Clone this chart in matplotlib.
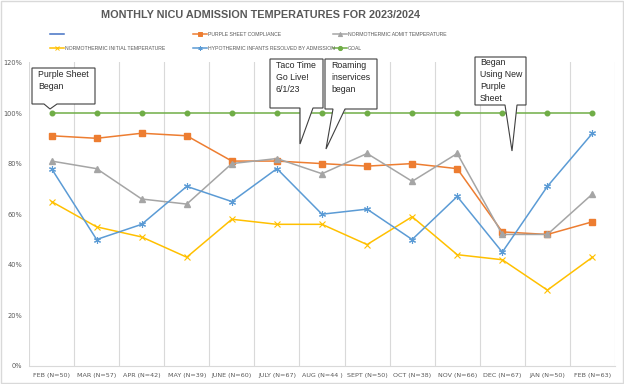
import matplotlib
matplotlib.use("Agg")
import matplotlib.pyplot as plt
from matplotlib.lines import Line2D
from matplotlib.patches import Polygon, Rectangle
from matplotlib.ticker import FuncFormatter

months = ["FEB (N=50)", "MAR (N=57)", "APR (N=42)", "MAY (N=39)", "JUNE (N=60)",
          "JULY (N=67)", "AUG (N=44 )", "SEPT (N=50)", "OCT (N=38)", "NOV (N=66)",
          "DEC (N=67)", "JAN (N=50)", "FEB (N=63)"]
purple_sheet = [91, 90, 92, 91, 81, 81, 80, 79, 80, 78, 53, 52, 57]
admit_temp = [81, 78, 66, 64, 80, 82, 76, 84, 73, 84, 52, 52, 68]
initial_temp = [65, 55, 51, 43, 58, 56, 56, 48, 59, 44, 42, 30, 43]
hypo_resolved = [78, 50, 56, 71, 65, 78, 60, 62, 50, 67, 45, 71, 92]
goal = [100] * 13

ORANGE = "#ED7D31"
GRAY = "#A5A5A5"
YELLOW = "#FFC000"
BLUE = "#5B9BD5"
GREEN = "#70AD47"
DARKBLUE = "#4472C4"
TXT = "#595959"
GRID = "#D9D9D9"

W, H = 624, 384


def fx(px):
    return px / W


def fy(py):
    return 1 - py / H


fig = plt.figure(figsize=(W / 100, H / 100), dpi=100)
fig.patches.append(Rectangle((0.001, 0.002), 0.997, 0.995, transform=fig.transFigure,
                             fill=False, edgecolor=GRID, lw=1))

ax = fig.add_axes([fx(29), fy(366), fx(615) - fx(29), fy(62.4) - fy(366)])
x = list(range(len(months)))

ax.plot(x, goal, color=GREEN, lw=1.1, marker="o", ms=3.3, zorder=3)
ax.plot(x, purple_sheet, color=ORANGE, lw=1.1, marker="s", ms=3.8, zorder=3)
ax.plot(x, admit_temp, color=GRAY, lw=1.1, marker="^", ms=4, zorder=3)
ax.plot(x, initial_temp, color=YELLOW, lw=1.1, marker="x", ms=4.5, mew=0.8, zorder=3)
ax.plot(x, hypo_resolved, color=BLUE, lw=1.1, marker=(6, 2, 0), ms=5, mew=0.8, zorder=3)

ax.set_xlim(-0.5, len(months) - 0.5)
ax.set_ylim(0, 120)
ax.set_yticks(range(0, 121, 20))
ax.yaxis.set_major_formatter(FuncFormatter(lambda v, p: f"{int(v)}%"))
ax.set_xticks(x)
ax.set_xticklabels(months)
ax.set_xticks([i - 0.5 for i in range(len(months) + 1)], minor=True)
ax.grid(True, axis="x", which="minor", color=GRID, lw=0.8)
ax.tick_params(axis="both", which="both", length=0)
ax.tick_params(axis="x", labelsize=4.6, labelcolor=TXT, pad=5)
ax.tick_params(axis="y", labelsize=4.8, labelcolor=TXT, pad=5)
for s in ["top", "right", "left"]:
    ax.spines[s].set_visible(False)
ax.spines["bottom"].set_color(GRID)
ax.spines["bottom"].set_linewidth(0.8)

fig.text(fx(261), fy(15), "MONTHLY NICU ADMISSION TEMPERATURES FOR 2023/2024",
         ha="center", va="center", fontsize=7.8, fontweight="bold", color=TXT,
         family=["Liberation Sans", "DejaVu Sans"])

# legend drawn by hand
legend_items = [
    (50, 34, DARKBLUE, None, ""),
    (193, 34, ORANGE, "s", "PURPLE SHEET COMPLIANCE"),
    (333, 34, GRAY, "^", "NORMOTHERMIC ADMIT TEMPERATURE"),
    (50, 48, YELLOW, "x", "NORMOTHERMIC INITIAL TEMPERATURE"),
    (193, 48, BLUE, (6, 2, 0), "HYPOTHERMIC INFANTS RESOLVED BY ADMISSION"),
    (333, 48, GREEN, "o", "GOAL"),
]
for lx, ly, c, m, lab in legend_items:
    fig.add_artist(Line2D([fx(lx), fx(lx + 14)], [fy(ly), fy(ly)], color=c, lw=1.1,
                          transform=fig.transFigure))
    if m is not None:
        fig.add_artist(Line2D([fx(lx + 7)], [fy(ly)], color=c, marker=m, ms=3,
                              mew=0.7, transform=fig.transFigure))
    if lab:
        fig.text(fx(lx + 15), fy(ly), lab, ha="left", va="center", fontsize=3.7,
                 color=TXT, family=["Liberation Sans", "DejaVu Sans"])

# callouts: box (left, top, right, bottom), pointer (base_left, tip, base_right)
callouts = [
    ((32, 68, 95, 104), (44, (50, 109), 57), "Purple Sheet\nBegan", (38, 70)),
    ((270, 59, 323, 108), (300, (300, 144), 313), "Taco Time\nGo Live!\n6/1/23", (276, 61)),
    ((325, 59, 377, 109), (333, (326, 149), 345), "Roaming\ninservices\nbegan", (331, 61)),
    ((475, 57, 526, 105), (505, (512, 151), 517), "Began\nUsing New\nPurple\nSheet", (480, 58)),
]
for (l, t, r, b), (bl, tip, br), txt, (tx, ty) in callouts:
    pts = [(l, t), (r, t), (r, b), (br, b), tip, (bl, b), (l, b)]
    poly = Polygon([(fx(px), fy(py)) for px, py in pts], closed=True,
                   transform=fig.transFigure, facecolor="white", edgecolor="#404040",
                   lw=0.8, zorder=5)
    fig.add_artist(poly)
    fig.text(fx(tx), fy(ty), txt, ha="left", va="top", fontsize=6.3, color="#262626",
             linespacing=1.45, family=["Liberation Sans", "DejaVu Sans"], zorder=6)

fig.savefig("out.png", dpi=100)
